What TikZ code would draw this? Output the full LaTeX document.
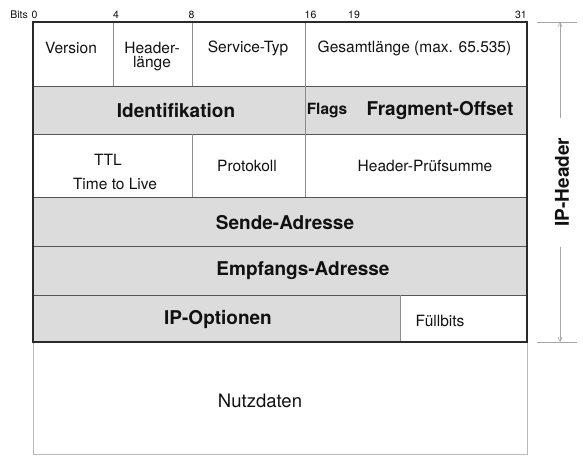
\documentclass[tikz,border=0pt]{standalone}
\usepackage{fontspec}
\setmainfont{TeX Gyre Heros}
\usetikzlibrary{arrows.meta}
\definecolor{cellgray}{HTML}{DCDCDC}
\definecolor{linegray}{HTML}{8C8C8C}
\definecolor{rowline}{HTML}{555555}
\definecolor{framecol}{HTML}{2A2A2A}
\definecolor{textcol}{HTML}{111111}
\begin{document}
\begin{tikzpicture}[x=1pt,y=-1pt,
  txt/.style={font=\fontsize{15.5}{19}\selectfont, inner sep=0pt, text=textcol},
  bigtxt/.style={font=\fontsize{18.5}{22}\selectfont, inner sep=0pt, text=textcol},
  btxt/.style={font=\fontsize{19}{22}\selectfont\bfseries, inner sep=0pt, text=textcol},
  smb/.style={font=\fontsize{15.5}{19}\selectfont\bfseries, inner sep=0pt, text=textcol},
  bits/.style={font=\fontsize{10.5}{12}\selectfont, inner sep=0pt, text=textcol},
  colline/.style={draw=linegray, line width=0.8pt},
  rowsep/.style={draw=rowline, line width=0.8pt},
  outerframe/.style={draw=framecol, line width=1.4pt},
  dataframe/.style={draw=gray!55, line width=0.8pt},
  dim/.style={draw=gray!70, line width=0.6pt},
  dimarrow/.style={draw=gray!70, line width=0.6pt, -{Straight Barb[length=4pt,width=4pt]}}
]
\useasboundingbox (0,0) rectangle (583,463);
% shaded fields
\fill[cellgray] (33,86) rectangle (527,134);
\fill[cellgray] (33,197) rectangle (527,295);
\fill[cellgray] (33,295) rectangle (400,342);
% payload box
\draw[dataframe] (33,342) rectangle (527,454);
% row separators
\foreach \y in {86,134,197,246,295} \draw[rowsep] (33,\y) -- (527,\y);
% column separators
\draw[colline] (113,22) -- (113,86);
\draw[colline] (192,22) -- (192,86);
\draw[colline] (305,22) -- (305,86);
\draw[colline] (305,86) -- (305,134);
\draw[colline] (192,134) -- (192,197);
\draw[colline] (305,134) -- (305,197);
\draw[colline] (400,295) -- (400,342);
% outer frame of the header
\draw[outerframe] (33,22) rectangle (527,342);

% bit labels
\node[bits, anchor=base east] (bitsl) at (28,18) {Bits};
\node[bits, anchor=base west] (b0) at (31.5,18) {0};
\node[bits, anchor=base west] (b4) at (113,18) {4};
\node[bits, anchor=base] (b8) at (191.5,18) {8};
\node[bits, anchor=base west] (b16) at (304.5,18) {16};
\node[bits, anchor=base west] (b19) at (348,18) {19};
\node[bits, anchor=base east] (b31) at (527,18) {31};

% row 1
\node[txt] (version) at (71,48) {Version};
\node[txt] (hl1) at (152,48) {Header-};
\node[txt] (hl2) at (152,64) {länge};
\node[txt] (service) at (248,48) {Service-Typ};
\node[txt] (gesamt) at (414.5,48) {Gesamtlänge (max. 65.535)};
% row 2
\node[btxt] (ident) at (176,111) {Identifikation};
\node[smb] (flags) at (327,111) {Flags};
\node[btxt] (frag) at (440,111) {Fragment-Offset};
% row 3
\node[txt] (ttl) at (108,160) {TTL};
\node[txt] (ttllong) at (115,184) {Time to Live};
\node[txt] (proto) at (247,166) {Protokoll};
\node[txt] (check) at (425,166) {Header-Prüfsumme};
% rows 4-6
\node[btxt] (send) at (285,223) {Sende-Adresse};
\node[btxt] (recv) at (303,271) {Empfangs-Adresse};
\node[btxt] (opt) at (218,319) {IP-Optionen};
\node[txt] (fill) at (440,321) {Füllbits};
% payload
\node[bigtxt] (data) at (260,401) {Nutzdaten};

% header dimension
\coordinate (tl) at (537,22);
\coordinate (tr) at (577,22);
\coordinate (bl) at (537,342);
\coordinate (br) at (577,342);
\draw[dim] (tl) -- (tr);
\draw[dim] (bl) -- (br);
\coordinate (atop) at (560,22);
\coordinate (abot) at (560,342);
\coordinate (gtop) at (560,118);
\coordinate (gbot) at (560,247);
\draw[dimarrow] (gtop) -- (atop);
\draw[dimarrow] (gbot) -- (abot);
\node[btxt, rotate=90] (iph) at (562,182) {IP-Header};
\end{tikzpicture}
\end{document}
